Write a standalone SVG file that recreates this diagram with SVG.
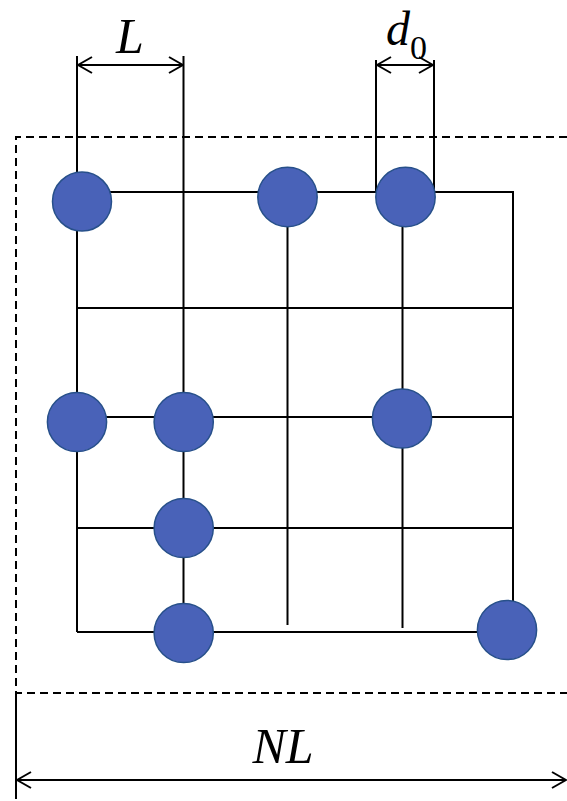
<svg xmlns="http://www.w3.org/2000/svg" width="567" height="801" viewBox="0 0 567 801">
<style>
.ln{stroke:#000;stroke-width:2;fill:none}
.dash{stroke:#000;stroke-width:2;fill:none;stroke-dasharray:8 5}
.node{fill:#4962B8;stroke:#27508A;stroke-width:1.5}
.lbl{font-family:"Liberation Serif","Times New Roman",serif;font-style:italic;fill:#000}
</style>
<defs>
<marker id="ah" viewBox="0 0 16 18" refX="15" refY="9" markerWidth="16" markerHeight="18" markerUnits="userSpaceOnUse" orient="auto-start-reverse">
<path d="M1,1 L15,9 L1,17" fill="none" stroke="#000" stroke-width="2"/>
</marker>
</defs>
<rect width="567" height="801" fill="#fff"/>
<g id="connectors">
<path class="dash" d="M567,137 H16 V693 H567"/>
<path class="ln" d="M77,192 H513 V601"/>
<path class="ln" d="M77,308 H513"/>
<path class="ln" d="M77,417 H514"/>
<path class="ln" d="M77,528 H513"/>
<path class="ln" d="M77,632 H478"/>
<path class="ln" d="M77,56 V632"/>
<path class="ln" d="M183.5,56 V632"/>
<path class="ln" d="M287.5,192 V625"/>
<path class="ln" d="M402.5,192 V628"/>
<path class="ln" d="M376,60 V192"/>
<path class="ln" d="M434,60 V192"/>
<path class="ln" d="M16,693 V799"/>
<line class="ln" x1="78" y1="65" x2="183" y2="65" marker-start="url(#ah)" marker-end="url(#ah)"/>
<line class="ln" x1="377" y1="65" x2="433" y2="65" marker-start="url(#ah)" marker-end="url(#ah)"/>
<line class="ln" x1="17" y1="780" x2="566" y2="780" marker-start="url(#ah)" marker-end="url(#ah)"/>
</g>
<g id="n1"><circle class="node" cx="82" cy="201.5" r="29.5"/></g>
<g id="n2"><circle class="node" cx="287.5" cy="197" r="29.7"/></g>
<g id="n3"><circle class="node" cx="405.5" cy="197" r="29.7"/></g>
<g id="n4"><circle class="node" cx="77" cy="422" r="29.6"/></g>
<g id="n5"><circle class="node" cx="183.7" cy="422" r="29.6"/></g>
<g id="n6"><circle class="node" cx="402" cy="418.5" r="29.6"/></g>
<g id="n7"><circle class="node" cx="183.7" cy="528" r="29.6"/></g>
<g id="n8"><circle class="node" cx="183.7" cy="633" r="29.6"/></g>
<g id="n9"><circle class="node" cx="507" cy="630" r="29.6"/></g>
<g id="labels">
<text class="lbl" x="130" y="53" font-size="50" text-anchor="middle">L</text>
<text class="lbl" x="386" y="45" font-size="48">d<tspan font-style="normal" font-size="34" dy="14">0</tspan></text>
<text class="lbl" x="283" y="763" font-size="50" text-anchor="middle">NL</text>
</g>
</svg>
